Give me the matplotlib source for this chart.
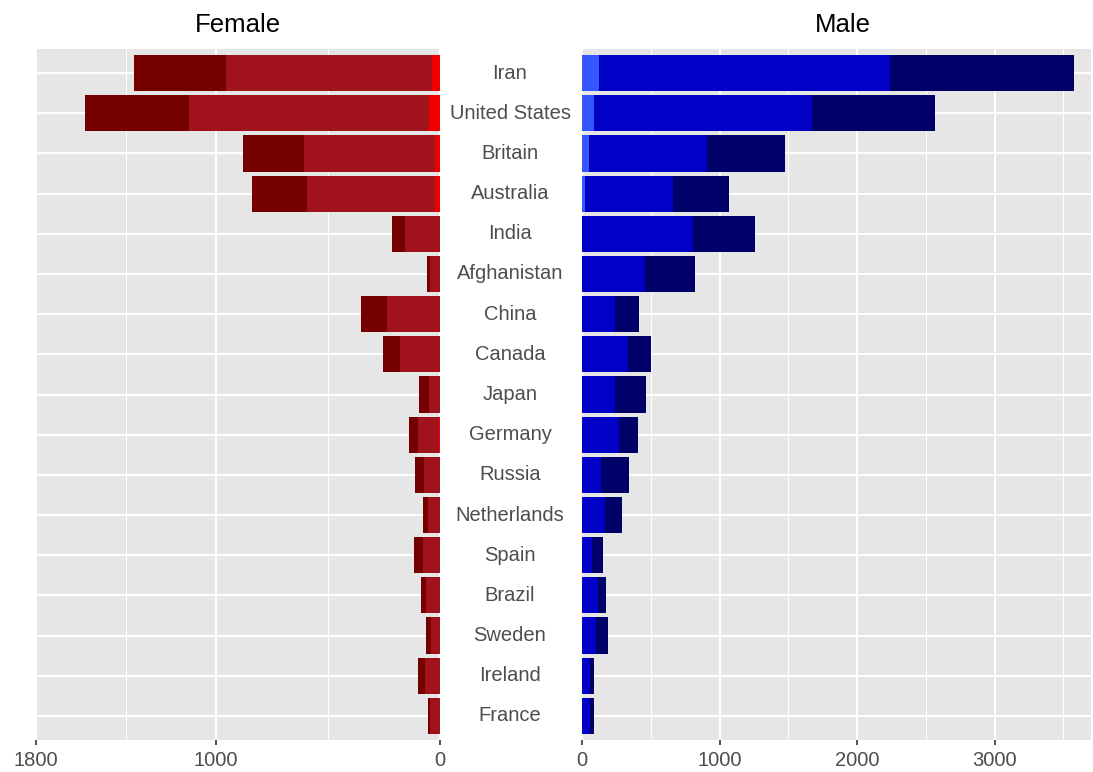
import matplotlib.pyplot as plt
from matplotlib.transforms import blended_transform_factory

countries = ["Iran", "United States", "Britain", "Australia", "India", "Afghanistan",
             "China", "Canada", "Japan", "Germany", "Russia", "Netherlands", "Spain",
             "Brazil", "Sweden", "Ireland", "France"]

# three stacked segments per country (inner -> outer)
female_light = [37, 50, 24, 24, 0, 0, 0, 0, 0, 4, 0, 0, 0, 0, 0, 0, 0]
female_mid = [917, 1067, 584, 569, 156, 45, 237, 177, 50, 93, 71, 53, 75, 61, 41, 69, 46]
female_dark = [411, 463, 270, 246, 59, 14, 116, 76, 42, 40, 39, 24, 40, 25, 21, 31, 7]

male_light = [126, 89, 53, 24, 0, 0, 0, 0, 0, 0, 0, 0, 0, 0, 0, 0, 0]
male_mid = [2116, 1586, 856, 635, 807, 455, 240, 332, 240, 269, 138, 167, 73, 119, 102, 60, 55]
male_dark = [1333, 892, 567, 410, 453, 364, 177, 172, 228, 135, 201, 124, 82, 58, 89, 29, 34]

female_ticks = [1800, 1000, 0]
female_minor = [1400, 500]
male_ticks = [0, 1000, 2000, 3000]
male_minor = [500, 1500, 2500, 3500]

female_colors = ["#EE0000", "#A0131C", "#740000"]
male_colors = ["#3557FF", "#0000C6", "#000069"]

plt.rcParams["font.family"] = ["Liberation Sans", "DejaVu Sans"]

W, H = 1093, 772
fig = plt.figure(figsize=(W / 100, H / 100), dpi=100)
ax_f = fig.add_axes([36 / W, 1 - 740 / H, 404 / W, 691 / H])
ax_m = fig.add_axes([582 / W, 1 - 740 / H, 509 / W, 691 / H])

y = list(range(len(countries)))


def draw(ax, segs, colors, xlim, ticks, minor):
    ax.set_facecolor("#E6E6E6")
    left = [0] * len(y)
    for seg, col in zip(segs, colors):
        ax.barh(y, seg, left=left, height=0.9, color=col, linewidth=0, zorder=3)
        left = [a + b for a, b in zip(left, seg)]
    ax.set_xlim(*xlim)
    ax.set_ylim(len(y) - 0.4, -0.6)
    ax.set_xticks(ticks)
    ax.set_xticks(minor, minor=True)
    ax.set_yticks(y)
    ax.set_yticklabels([])
    ax.grid(True, which="major", color="white", linewidth=1.4, zorder=0)
    ax.grid(True, which="minor", axis="x", color="white", linewidth=0.7, zorder=0)
    ax.set_axisbelow(True)
    for s in ax.spines.values():
        s.set_visible(False)
    ax.tick_params(axis="y", length=0)
    ax.tick_params(axis="x", which="major", length=3.5, width=1.2, color="#333333",
                   labelsize=14.5, labelcolor="#4D4D4D", pad=4.5)
    ax.tick_params(axis="x", which="minor", length=0)


draw(ax_f, [female_light, female_mid, female_dark], female_colors, (1800, 0),
     female_ticks, female_minor)
draw(ax_m, [male_light, male_mid, male_dark], male_colors, (0, 3700),
     male_ticks, male_minor)

trans = blended_transform_factory(fig.transFigure, ax_f.transData)
for i, name in enumerate(countries):
    ax_f.text(510 / W, i, name, transform=trans, ha="center", va="center",
              fontsize=14.5, color="#4D4D4D", clip_on=False)

fig.text(238 / W, 1 - 25 / H, "Female", ha="center", va="center", fontsize=18.5)
fig.text(843 / W, 1 - 25 / H, "Male", ha="center", va="center", fontsize=18.5)

fig.savefig("out.png", dpi=100)
